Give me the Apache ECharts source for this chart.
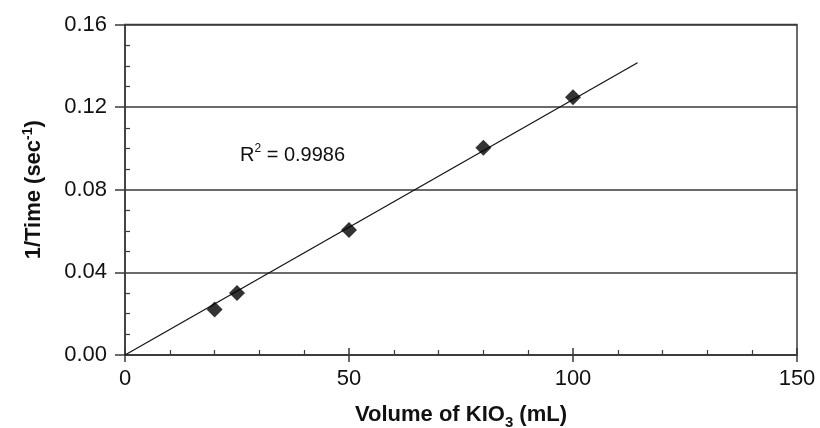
<!DOCTYPE html>
<html><head><meta charset="utf-8">
<script src="https://cdn.jsdelivr.net/npm/echarts@6/dist/echarts.min.js"></script>
<style>html,body{margin:0;padding:0;background:#fff}#c{width:820px;height:428px}</style>
</head><body><div id="c"></div>
<script>
var volumes = [20, 25, 50, 80, 100];
var invTime = [0.022, 0.030, 0.0605, 0.1003, 0.1248];
var trendX = [0, 114.4];
var trendY = [0, 0.1415];
var xTicks = [0, 50, 100, 150];
var yTicks = [0, 0.04, 0.08, 0.12, 0.16];

var chart = echarts.init(document.getElementById('c'), null, {renderer:'canvas'});
var F = '"Liberation Sans", Arial, Helvetica, sans-serif';
var axisCol = '#3a3a3a';
var pts = volumes.map(function(v,i){return [v, invTime[i]];});
var trend = trendX.map(function(v,i){return [v, trendY[i]];});

chart.setOption({
  animation:false,
  textStyle:{fontFamily:F},
  grid:{left:125, right:23, top:24.5, bottom:73, show:true, borderColor:axisCol, borderWidth:1.5,
        containLabel:false, outerBoundsMode:'none'},
  xAxis:[{
    type:'value', min:xTicks[0], max:xTicks[xTicks.length-1], interval:50,
    axisLine:{show:true, onZero:false, lineStyle:{color:axisCol, width:1.5}},
    axisTick:{show:true, inside:false, length:7, lineStyle:{color:axisCol, width:1.5}},
    minorTick:{show:false},
    splitLine:{show:false},
    axisLabel:{color:'#111', fontSize:22, fontFamily:F, margin:13},
    name:'{b|Volume of KIO}{s|3}{b| (mL)}', nameLocation:'middle', nameGap:49,
    nameTextStyle:{rich:{
      b:{fontSize:22, fontWeight:'bold', fontFamily:F, color:'#111', lineHeight:28, verticalAlign:'top'},
      s:{fontSize:15, fontWeight:'bold', fontFamily:F, color:'#111', lineHeight:28, verticalAlign:'top', padding:[11,0,0,0]}
    }}
  },{
    type:'value', min:0, max:150, interval:50, position:'bottom',
    axisLine:{show:false},
    axisTick:{show:true, inside:true, length:7, lineStyle:{color:axisCol, width:1.5}},
    minorTick:{show:true, splitNumber:5, length:5, lineStyle:{color:axisCol, width:1.2}},
    splitLine:{show:false}, axisLabel:{show:false}
  }],
  yAxis:[{
    type:'value', min:yTicks[0], max:yTicks[yTicks.length-1], interval:0.04,
    axisLine:{show:true, onZero:false, lineStyle:{color:axisCol, width:1.5}},
    axisTick:{show:true, inside:false, length:10, lineStyle:{color:axisCol, width:1.5}},
    splitLine:{show:true, lineStyle:{color:axisCol, width:1.5}},
    axisLabel:{color:'#111', fontSize:22, fontFamily:F, margin:18, formatter:function(v){return v.toFixed(2);}},
    name:'{b|1/Time (sec}{s|-1}{b|)}', nameLocation:'middle', nameGap:80,
    nameTextStyle:{rich:{
      b:{fontSize:22, fontWeight:'bold', fontFamily:F, color:'#111', lineHeight:28, verticalAlign:'bottom'},
      s:{fontSize:14, fontWeight:'bold', fontFamily:F, color:'#111', lineHeight:28, verticalAlign:'bottom', padding:[0,0,10,0]}
    }}
  },{
    type:'value', min:0, max:0.16, interval:0.04, position:'left',
    axisLine:{show:false},
    axisTick:{show:true, inside:true, length:0},
    minorTick:{show:true, splitNumber:4, length:5, lineStyle:{color:axisCol, width:1.2}},
    splitLine:{show:false}, axisLabel:{show:false}
  }],
  series:[{
    type:'line', data:trend, showSymbol:false, symbol:'none',
    lineStyle:{color:'#111', width:1.2}, silent:true, z:2
  },{
    type:'scatter', data:pts, symbol:'diamond', symbolSize:16,
    itemStyle:{color:'#000'}, z:3
  }],
  graphic:[{
    type:'text', left:240, top:143,
    style:{
      text:'{n|R}{p|2}{n| = 0.9986}',
      rich:{
        n:{fontSize:20, fontFamily:F, fill:'#111', lineHeight:26, verticalAlign:'bottom'},
        p:{fontSize:12, fontFamily:F, fill:'#111', lineHeight:26, verticalAlign:'bottom', padding:[0,0,10,0]}
      }
    }
  }]
});
</script></body></html>
